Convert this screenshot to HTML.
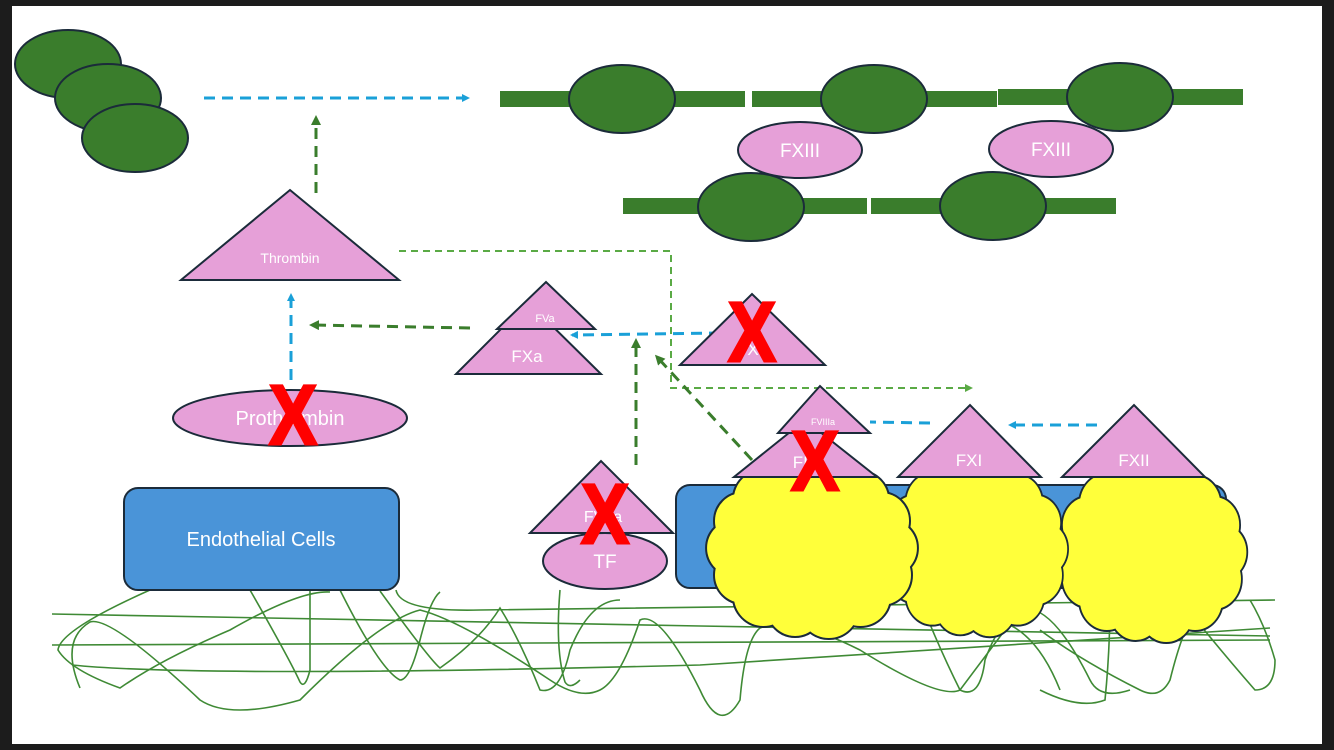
<!DOCTYPE html>
<html><head><meta charset="utf-8"><style>
html,body{margin:0;padding:0;background:#1c1c1c;}
svg{display:block;}
text{font-family:"Liberation Sans",sans-serif;fill:#fff;text-anchor:middle;}
.x{fill:#ff0000;stroke:#ff0000;stroke-width:3;font-weight:bold;font-family:"Liberation Sans",sans-serif;}
</style></head><body>
<svg width="1334" height="750" viewBox="0 0 1334 750" xmlns="http://www.w3.org/2000/svg">
<defs>
<marker id="ab" markerWidth="8" markerHeight="8" refX="6" refY="4" orient="auto" markerUnits="userSpaceOnUse"><path d="M0,0 L8,4 L0,8 Z" fill="#1aa0d8"/></marker>
<marker id="ag" markerWidth="10" markerHeight="10" refX="7" refY="5" orient="auto" markerUnits="userSpaceOnUse"><path d="M0,0 L10,5 L0,10 Z" fill="#3a7d2c"/></marker>
<marker id="al" markerWidth="8" markerHeight="8" refX="6" refY="4" orient="auto" markerUnits="userSpaceOnUse"><path d="M0,0 L8,4 L0,8 Z" fill="#5aaa45"/></marker>
<g id="cloud">
<circle cx="78" cy="0" r="28"/><circle cx="70" cy="27" r="30"/><circle cx="49" cy="48" r="30"/><circle cx="17" cy="60" r="30"/><circle cx="-17" cy="60" r="28"/><circle cx="-49" cy="48" r="30"/><circle cx="-70" cy="27" r="28"/><circle cx="-78" cy="0" r="28"/><circle cx="-70" cy="-27" r="28"/><circle cx="-49" cy="-48" r="30"/><circle cx="-17" cy="-60" r="30"/><circle cx="17" cy="-60" r="30"/><circle cx="49" cy="-48" r="28"/><circle cx="70" cy="-27" r="28"/><ellipse cx="0" cy="0" rx="82" ry="66"/>
</g>
</defs>
<rect x="12" y="6" width="1310" height="738" fill="#fff"/>

<g fill="#3a7d2c" stroke="#1b2b3a" stroke-width="2">
<ellipse cx="68" cy="64" rx="53" ry="34"/>
<ellipse cx="108" cy="98" rx="53" ry="34"/>
<ellipse cx="135" cy="138" rx="53" ry="34"/>
</g>
<line x1="204" y1="98" x2="468" y2="98" stroke="#1aa0d8" stroke-width="3" stroke-dasharray="11,7" marker-end="url(#ab)"/>

<g fill="#3a7d2c">
<rect x="500" y="91" width="245" height="16"/>
<rect x="752" y="91" width="245" height="16"/>
<rect x="998" y="89" width="245" height="16"/>
<rect x="623" y="198" width="244" height="16"/>
<rect x="871" y="198" width="245" height="16"/>
</g>
<g fill="#3a7d2c" stroke="#1b2b3a" stroke-width="2">
<ellipse cx="622" cy="99" rx="53" ry="34"/>
<ellipse cx="874" cy="99" rx="53" ry="34"/>
<ellipse cx="1120" cy="97" rx="53" ry="34"/>
<ellipse cx="751" cy="207" rx="53" ry="34"/>
<ellipse cx="993" cy="206" rx="53" ry="34"/>
</g>
<g fill="#e6a0d8" stroke="#1b2b3a" stroke-width="2">
<ellipse cx="800" cy="150" rx="62" ry="28"/>
<ellipse cx="1051" cy="149" rx="62" ry="28"/>
</g>
<text x="800" y="157" font-size="19">FXIII</text>
<text x="1051" y="156" font-size="19">FXIII</text>

<line x1="316" y1="193" x2="316" y2="118" stroke="#3a7d2c" stroke-width="3" stroke-dasharray="11,7" marker-end="url(#ag)"/>
<polyline points="399,251 671,251 671,388 971,388" fill="none" stroke="#5aaa45" stroke-width="2" stroke-dasharray="7,5" marker-end="url(#al)"/>
<line x1="470" y1="328" x2="312" y2="325" stroke="#3a7d2c" stroke-width="3" stroke-dasharray="11,7" marker-end="url(#ag)"/>
<line x1="291" y1="380" x2="291" y2="295" stroke="#1aa0d8" stroke-width="3" stroke-dasharray="11,7" marker-end="url(#ab)"/>
<line x1="720" y1="333" x2="572" y2="335" stroke="#1aa0d8" stroke-width="3" stroke-dasharray="11,7" marker-end="url(#ab)"/>
<line x1="636" y1="465" x2="636" y2="341" stroke="#3a7d2c" stroke-width="3" stroke-dasharray="11,7" marker-end="url(#ag)"/>
<line x1="752" y1="460" x2="657" y2="357" stroke="#3a7d2c" stroke-width="3" stroke-dasharray="11,7" marker-end="url(#ag)"/>
<line x1="1097" y1="425" x2="1010" y2="425" stroke="#1aa0d8" stroke-width="3" stroke-dasharray="11,7" marker-end="url(#ab)"/>
<line x1="930" y1="423" x2="870" y2="422" stroke="#1aa0d8" stroke-width="3" stroke-dasharray="11,7"/>

<g fill="none" stroke="#3f8a35" stroke-width="1.6">
<path d="M52,614 L700,626 L1270,636"/>
<path d="M52,645 L1270,640"/>
<path d="M72,665 Q200,678 700,665 L1270,628"/>
<path d="M396,590 Q400,612 480,610 L1275,600"/>
<path d="M150,590 Q60,630 58,650 Q70,670 120,688 Q160,660 230,630 Q300,590 330,592"/>
<path d="M80,688 Q60,640 90,622 Q110,615 200,700 Q230,720 300,700 Q380,620 420,610 Q460,620 550,680 Q580,700 600,690 Q620,680 640,620 Q660,610 700,690 Q720,735 740,700 Q745,640 760,628 Q790,615 860,650 Q940,700 960,690 Q990,650 1020,610 Q1050,600 1090,680 Q1100,700 1130,690"/>
<path d="M250,590 Q290,660 300,682 Q305,690 310,670 Q310,620 310,590"/>
<path d="M340,590 Q380,670 400,680 Q410,680 420,640 Q430,600 440,592"/>
<path d="M380,591 Q430,660 440,668 Q480,640 500,608 Q520,640 540,690 Q560,695 570,650 Q590,600 620,600"/>
<path d="M560,590 Q555,650 565,682 Q570,690 580,680"/>
<path d="M920,600 Q940,650 960,690 Q980,700 985,660 Q1000,620 1010,625 Q1040,640 1060,690"/>
<path d="M1040,630 Q1080,660 1140,690 Q1160,700 1170,680 Q1180,640 1190,620"/>
<path d="M1180,600 Q1220,650 1255,690 Q1275,690 1275,660 Q1265,625 1250,600"/>
<path d="M1110,600 Q1110,650 1105,700 Q1080,710 1040,690"/>
</g>

<polygon points="181,280 399,280 290,190" fill="#e6a0d8" stroke="#1b2b3a" stroke-width="2"/>
<text x="290" y="263" font-size="14">Thrombin</text>

<polygon points="456,374 601,374 528,302" fill="#e6a0d8" stroke="#1b2b3a" stroke-width="2"/>
<polygon points="497,329 595,329 546,282" fill="#e6a0d8" stroke="#1b2b3a" stroke-width="2"/>
<text x="545" y="322" font-size="11">FVa</text>
<text x="527" y="362" font-size="17">FXa</text>

<polygon points="680,365 825,365 752,294" fill="#e6a0d8" stroke="#1b2b3a" stroke-width="2"/>
<text x="753" y="355" font-size="17">X</text>
<text class="x" transform="translate(752,361) scale(0.85,1)" font-size="84">X</text>

<ellipse cx="290" cy="418" rx="117" ry="28" fill="#e6a0d8" stroke="#1b2b3a" stroke-width="2"/>
<text x="290" y="425" font-size="20">Prothrombin</text>
<text class="x" transform="translate(293,444) scale(0.85,1)" font-size="84">X</text>

<rect x="124" y="488" width="275" height="102" rx="14" fill="#4a94d8" stroke="#1b2b3a" stroke-width="2"/>
<text x="261" y="546" font-size="20">Endothelial Cells</text>

<rect x="676" y="485" width="550" height="103" rx="14" fill="#4a94d8" stroke="#1b2b3a" stroke-width="2"/>

<polygon points="530,533 673,533 601,461" fill="#e6a0d8" stroke="#1b2b3a" stroke-width="2"/>
<ellipse cx="605" cy="561" rx="62" ry="28" fill="#e6a0d8" stroke="#1b2b3a" stroke-width="2"/>
<text x="603" y="522" font-size="16">FVIIa</text>
<text x="605" y="568" font-size="19">TF</text>
<text class="x" transform="translate(605,543) scale(0.85,1)" font-size="84">X</text>

<g stroke="#1b2b3a" stroke-width="4" fill="#ffff3a"><use href="#cloud" transform="translate(1151,552) scale(0.9,1.0)"/></g>
<g fill="#ffff3a"><use href="#cloud" transform="translate(1151,552) scale(0.9,1.0)"/></g>
<g stroke="#1b2b3a" stroke-width="4" fill="#ffff3a"><use href="#cloud" transform="translate(975,549) scale(0.87,0.97)"/></g>
<g fill="#ffff3a"><use href="#cloud" transform="translate(975,549) scale(0.87,0.97)"/></g>
<g stroke="#1b2b3a" stroke-width="4" fill="#ffff3a"><use href="#cloud" transform="translate(812,548) scale(0.99,1.0)"/></g>
<g fill="#ffff3a"><use href="#cloud" transform="translate(812,548) scale(0.99,1.0)"/></g>

<polygon points="734,477 877,477 805,420" fill="#e6a0d8" stroke="#1b2b3a" stroke-width="2"/>
<polygon points="778,433 870,433 820,386" fill="#e6a0d8" stroke="#1b2b3a" stroke-width="2"/>
<text x="823" y="425" font-size="9">FVIIIa</text>
<text x="806" y="468" font-size="17">FIX</text>
<text class="x" transform="translate(815,490) scale(0.85,1)" font-size="84">X</text>

<polygon points="898,477 1041,477 970,405" fill="#e6a0d8" stroke="#1b2b3a" stroke-width="2"/>
<polygon points="1062,477 1205,477 1134,405" fill="#e6a0d8" stroke="#1b2b3a" stroke-width="2"/>
<text x="969" y="466" font-size="17">FXI</text>
<text x="1134" y="466" font-size="17">FXII</text>
</svg>
</body></html>
